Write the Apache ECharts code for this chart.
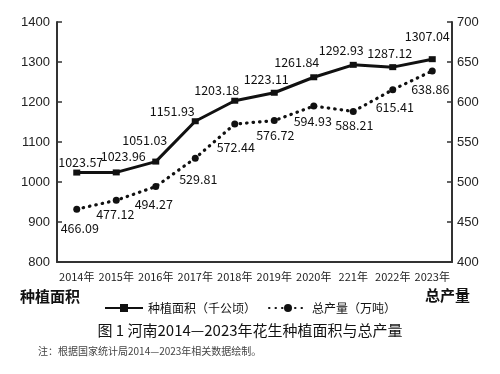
<!DOCTYPE html>
<html><head><meta charset="utf-8">
<script src="https://cdn.jsdelivr.net/npm/echarts@6/dist/echarts.min.js"></script>
<style>html,body{margin:0;padding:0;background:#fff}#c{width:500px;height:374px}</style>
</head><body><div id="c"></div>
<script>
const categories = ['2014年','2015年','2016年','2017年','2018年','2019年','2020年','221年','2022年','2023年'];
const areaValues = [1023.57,1023.96,1051.03,1151.93,1203.18,1223.11,1261.84,1292.93,1287.12,1307.04];
const prodValues = [466.09,477.12,494.27,529.81,572.44,576.72,594.93,588.21,615.41,638.86];
const leftTicks = {min:800, max:1400, interval:100};
const rightTicks = {min:400, max:700, interval:50};

const areaLabelOffsets = [[4,-10],[7,-16],[-11,-21],[-23,-10],[-18,-10],[-8,-14],[-17,-15],[-12,-15],[-3,-14],[-5,-23]];
const prodLabelOffsets = [[3,19],[-1,14],[-2,18],[3,21],[1,23],[1,15],[-1,15],[1,14],[2,18],[-2,18]];

const labelFont = {fontFamily:'"Noto Sans CJK SC", sans-serif', fontSize:12.5, color:'#111'};

function withLabels(vals, offs){
  return vals.map((v,i)=>({value:v, label:{position:'inside', align:'center', verticalAlign:'middle', offset:offs[i]}}));
}

const chart = echarts.init(document.getElementById('c'), null, {renderer:'canvas'});
chart.setOption({
  animation:false,
  backgroundColor:'#fff',
  grid:{left:57, right:48, top:22, bottom:112, containLabel:false},
  legend:{
    top:297, left:'center', itemWidth:38, itemHeight:10, itemGap:12,
    textStyle:{fontFamily:'"Noto Sans CJK SC", sans-serif', fontSize:12, color:'#111'},
    data:['种植面积（千公顷）','总产量（万吨）']
  },
  xAxis:{
    type:'category', data:categories, boundaryGap:true,
    axisLine:{lineStyle:{color:'#333', width:2}},
    axisTick:{inside:true, length:5, lineStyle:{color:'#333', width:1.5}},
    axisLabel:{interval:0, margin:9, fontFamily:'"Liberation Sans Narrow", "Noto Sans CJK SC", sans-serif', fontSize:11, color:'#222'}
  },
  yAxis:[
    {type:'value', min:leftTicks.min, max:leftTicks.max, interval:leftTicks.interval,
     axisLine:{show:true, lineStyle:{color:'#333', width:2}},
     axisTick:{show:true, inside:true, length:5, lineStyle:{color:'#333', width:1.5}},
     splitLine:{show:false},
     axisLabel:{margin:7, formatter:v=>String(v), fontFamily:'Arial, "Liberation Sans", sans-serif', fontSize:13, color:'#222'}},
    {type:'value', min:rightTicks.min, max:rightTicks.max, interval:rightTicks.interval, position:'right',
     axisLine:{show:true, lineStyle:{color:'#333', width:2}},
     axisTick:{show:true, inside:true, length:5, lineStyle:{color:'#333', width:1.5}},
     splitLine:{show:false},
     axisLabel:{margin:5, formatter:v=>String(v), fontFamily:'Arial, "Liberation Sans", sans-serif', fontSize:13, color:'#222'}}
  ],
  series:[
    {name:'种植面积（千公顷）', type:'line', yAxisIndex:0,
     data:withLabels(areaValues, areaLabelOffsets),
     symbol:'rect', symbolSize:[7,6],
     itemStyle:{color:'#111'},
     lineStyle:{color:'#111', width:3},
     label:Object.assign({show:true}, labelFont)},
    {name:'总产量（万吨）', type:'line', yAxisIndex:1,
     data:withLabels(prodValues, prodLabelOffsets),
     symbol:'circle', symbolSize:7,
     itemStyle:{color:'#111'},
     lineStyle:{color:'#111', width:3.2, type:[0.5,6], cap:'round'},
     label:Object.assign({show:true}, labelFont)}
  ],
  graphic:[
    {type:'text', left:20, top:289, style:{text:'种植面积', font:'bold 15px "Noto Sans CJK SC"', fill:'#111'}},
    {type:'text', left:425, top:288, style:{text:'总产量', font:'bold 15px "Noto Sans CJK SC"', fill:'#111'}},
    {type:'text', left:'center', top:323, style:{text:'图 1 河南2014—2023年花生种植面积与总产量', font:'15px "Noto Sans CJK SC"', fill:'#111'}},
    {type:'text', left:38, top:346, style:{text:'注：根据国家统计局2014—2023年相关数据绘制。', font:'10px "Noto Sans CJK SC"', fill:'#444'}}
  ]
});
</script></body></html>
